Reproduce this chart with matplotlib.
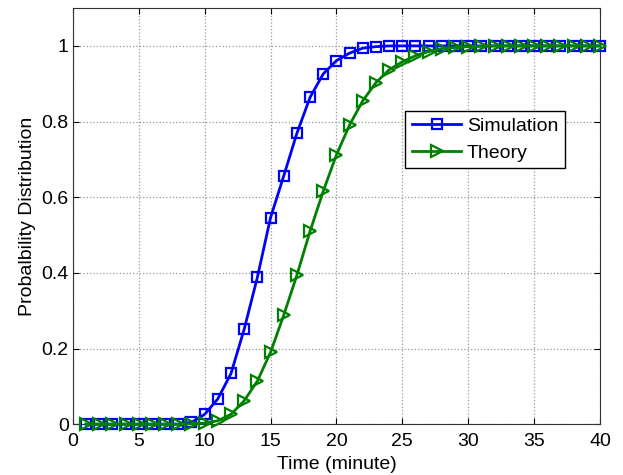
import numpy as np
import matplotlib
matplotlib.use('Agg')
from matplotlib import pyplot as plt

plt.rcParams['font.family'] = ['Liberation Sans', 'DejaVu Sans']

t = np.arange(1, 41)
sim = [0, 0, 0, 0, 0, 0, 0, 0, 0.005, 0.026,
       0.067, 0.134, 0.251, 0.388, 0.546, 0.656, 0.769, 0.864, 0.926, 0.961,
       0.981, 0.994, 0.998, 1, 1, 1, 1, 1, 1, 1,
       1, 1, 1, 1, 1, 1, 1, 1, 1, 1]
theory = [0, 0, 0, 0, 0, 0, 0, 0, 0.001, 0.003,
          0.009, 0.026, 0.062, 0.114, 0.19, 0.288, 0.394, 0.51, 0.616, 0.712,
          0.791, 0.855, 0.903, 0.937, 0.958, 0.974, 0.985, 0.993, 0.996, 0.998,
          0.999, 1, 1, 1, 1, 1, 1, 1, 1, 1]

fig = plt.figure(figsize=(6.23, 4.75), dpi=100)
ax = fig.add_axes([0.117, 0.107, 0.846, 0.876])

ax.plot(t, sim, '-s', color='#0000ff', lw=2, ms=7, mfc='none', mew=1.6,
        label='Simulation', clip_on=False, zorder=3)
ax.plot(t, theory, '->', color='#008000', lw=2, ms=8, mfc='none', mew=1.6,
        label='Theory', clip_on=False, zorder=4)

ax.set_xlim(0, 40)
ax.set_ylim(0, 1.1)
ax.set_xticks(range(0, 41, 5))
ax.set_yticks([0, 0.2, 0.4, 0.6, 0.8, 1])
ax.set_yticklabels(['0', '0.2', '0.4', '0.6', '0.8', '1'])
ax.tick_params(labelsize=14, direction='in', length=4, top=True, right=True)
ax.tick_params(axis='x', pad=6.5)
ax.tick_params(axis='y', pad=3)
ax.grid(True, linestyle=':', color='#999999', lw=0.9)
for s in ax.spines.values():
    s.set_linewidth(0.8)
    s.set_color('#333333')
ax.set_xlabel('Time (minute)', fontsize=14, labelpad=4)
ax.set_ylabel('Probalbility Distribution', fontsize=14, labelpad=4)

ax.legend(loc='upper left', bbox_to_anchor=(0.631, 0.753), fontsize=14,
          fancybox=False, edgecolor='black', framealpha=1,
          handlelength=2.5, handletextpad=0.3, borderpad=0.35,
          labelspacing=0.45, borderaxespad=0)

fig.savefig('out.png', dpi=100)
